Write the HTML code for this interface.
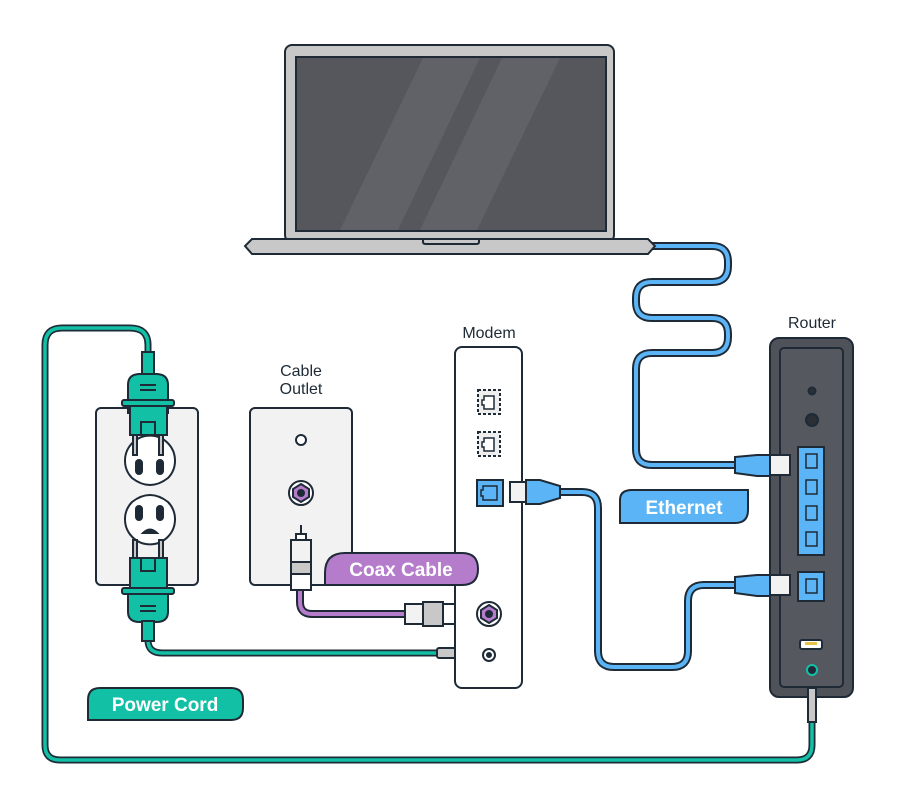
<!DOCTYPE html>
<html><head><style>body{margin:0;background:#fff}svg{display:block}text{font-family:"Liberation Sans",sans-serif}</style></head><body>
<svg width="900" height="811" viewBox="0 0 900 811" xmlns="http://www.w3.org/2000/svg">
<g fill="none" stroke-linecap="round" stroke-linejoin="round">
<path d="M148 360 V345 Q148 328 130 328 H62 Q45 328 45 345 V745 Q45 760 60 760 H797 Q812 760 812 745 V688" stroke="#1e2a36" stroke-width="7"/>
<path d="M148 360 V345 Q148 328 130 328 H62 Q45 328 45 345 V745 Q45 760 60 760 H797 Q812 760 812 745 V688" stroke="#12c0a6" stroke-width="3.5"/>
<path d="M148 620 V640 Q148 653 162 653 H440" stroke="#1e2a36" stroke-width="7"/>
<path d="M148 620 V640 Q148 653 162 653 H440" stroke="#12c0a6" stroke-width="3.5"/>
<path d="M652 246 H712 Q728 246 728 262 V266 Q728 282 712 282 H652 Q636 282 636 298 V302 Q636 318 652 318 H712 Q728 318 728 334 V337 Q728 353 712 353 H652 Q636 353 636 369 V449 Q636 465 652 465 H735" stroke="#1e2a36" stroke-width="8"/>
<path d="M652 246 H712 Q728 246 728 262 V266 Q728 282 712 282 H652 Q636 282 636 298 V302 Q636 318 652 318 H712 Q728 318 728 334 V337 Q728 353 712 353 H652 Q636 353 636 369 V449 Q636 465 652 465 H735" stroke="#5ab4f5" stroke-width="4"/>
<path d="M560 492 H582 Q598 492 598 508 V651 Q598 667 614 667 H672 Q688 667 688 651 V601 Q688 585 704 585 H735" stroke="#1e2a36" stroke-width="8"/>
<path d="M560 492 H582 Q598 492 598 508 V651 Q598 667 614 667 H672 Q688 667 688 651 V601 Q688 585 704 585 H735" stroke="#5ab4f5" stroke-width="4"/>
<path d="M300 590 V602 Q300 614 312 614 H408" stroke="#1e2a36" stroke-width="8"/>
<path d="M300 590 V602 Q300 614 312 614 H408" stroke="#b57ccc" stroke-width="4"/>
</g>
<g stroke="#1e2a36" stroke-width="2">
<rect x="285" y="45" width="329" height="197" rx="7" fill="#c8c8c9"/>
<rect x="296" y="57" width="310" height="174" fill="#55575d"/>
<polygon points="423,58 480,58 398,230 340,230" fill="#606267" stroke="none"/>
<polygon points="502,58 560,58 477,230 420,230" fill="#606267" stroke="none"/>
<rect x="296" y="57" width="310" height="174" fill="none"/>
<path d="M252 239 H648 L655 246 L648 254 H252 L245 246 Z" fill="#c8c8c9"/>
<path d="M423 239 H479 V242 Q479 244 476 244 H426 Q423 244 423 242 Z" fill="#c8c8c9"/>
<rect x="96" y="408" width="102" height="177" rx="5" fill="#f2f2f3"/>
<path d="M132 478 A25 25 0 1 1 168 478 Q150 492 132 478Z" fill="#fff"/>
<rect x="136" y="460" width="6" height="14" rx="3" fill="#1e2a36"/>
<rect x="157" y="460" width="6" height="14" rx="3" fill="#1e2a36"/>
<path d="M132 502 Q150 488 168 502 A25 25 0 1 1 132 502Z" fill="#fff"/>
<rect x="136" y="506" width="6" height="14" rx="3" fill="#1e2a36"/>
<rect x="157" y="506" width="6" height="14" rx="3" fill="#1e2a36"/>
<path d="M143 533 Q150 526 157 533Z" fill="#1e2a36"/>
<rect x="142" y="352" width="12" height="24" fill="#12c0a6"/>
<path d="M128 413 V385 Q128 374 140 374 H156 Q168 374 168 385 V413Z" fill="#12c0a6"/>
<rect x="122" y="400" width="52" height="6" rx="2" fill="#12c0a6"/>
<rect x="130" y="406" width="37" height="29" fill="#12c0a6"/>
<rect x="141" y="422" width="14" height="13" fill="#12c0a6"/>
<line x1="140" y1="385" x2="156" y2="385"/><line x1="140" y1="390" x2="156" y2="390"/>
<rect x="133" y="435" width="4" height="20" fill="#c8c8c9"/><rect x="159" y="435" width="4" height="20" fill="#c8c8c9"/>
<rect x="133" y="540" width="4" height="20" fill="#c8c8c9"/><rect x="159" y="540" width="4" height="20" fill="#c8c8c9"/>
<rect x="130" y="558" width="37" height="30" fill="#12c0a6"/>
<rect x="141" y="558" width="14" height="13" fill="#12c0a6"/>
<rect x="122" y="588" width="52" height="6" rx="2" fill="#12c0a6"/>
<path d="M128 594 V612 Q128 622 140 622 H156 Q168 622 168 612 V594Z" fill="#12c0a6"/>
<line x1="140" y1="606" x2="156" y2="606"/><line x1="140" y1="611" x2="156" y2="611"/>
<rect x="142" y="621" width="12" height="20" fill="#12c0a6"/>
<rect x="250" y="408" width="102" height="177" rx="5" fill="#f2f2f3"/>
<circle cx="301" cy="440" r="5" fill="#fff"/>
<circle cx="301" cy="493" r="12" fill="#fff"/>
<polygon points="301,484 309,489 309,497 301,502 293,497 293,489" fill="#b57ccc"/>
<circle cx="301" cy="493" r="3" fill="#1e2a36"/>
<line x1="301" y1="525" x2="301" y2="535"/>
<rect x="296" y="534" width="10" height="6" fill="#fff"/>
<rect x="291" y="540" width="20" height="22" fill="#f2f2f3"/>
<rect x="291" y="562" width="20" height="12" fill="#c8c8c9"/>
<rect x="291" y="574" width="20" height="16" fill="#fff"/>
<rect x="405" y="604" width="18" height="20" fill="#f2f2f3"/>
<rect x="423" y="602" width="20" height="24" fill="#c8c8c9"/>
<rect x="443" y="604" width="17" height="20" fill="#fff"/>
<line x1="460" y1="614" x2="470" y2="614"/>
<rect x="437" y="648" width="22" height="10" rx="2" fill="#c8c8c9"/>
<rect x="459" y="649" width="10" height="8" fill="#fff"/>
<rect x="455" y="347" width="67" height="341" rx="7" fill="#fff"/>
<rect x="478" y="390" width="22" height="24" fill="#eee" stroke-dasharray="3 2"/>
<path d="M484 396 H494 V409 H484 V405 H482 V400 H484Z" fill="#fff" stroke-width="1.5"/>
<rect x="478" y="432" width="22" height="24" fill="#eee" stroke-dasharray="3 2"/>
<path d="M484 438 H494 V451 H484 V447 H482 V442 H484Z" fill="#fff" stroke-width="1.5"/>
<rect x="477" y="480" width="26" height="26" fill="#5ab4f5"/>
<path d="M483 486 H497 V500 H483 V496 H481 V490 H483Z" fill="#5ab4f5" stroke-width="1.5"/>
<circle cx="489" cy="614" r="12" fill="#fff"/>
<polygon points="489,605 497,610 497,618 489,623 481,618 481,610" fill="#b57ccc"/>
<circle cx="489" cy="614" r="3" fill="#1e2a36"/>
<circle cx="489" cy="655" r="6" fill="#fff"/><circle cx="489" cy="655" r="2" fill="#1e2a36"/>
<rect x="510" y="482" width="16" height="20" fill="#f2f2f3"/>
<path d="M526 480 H540 L560 486 V498 L540 504 H526Z" fill="#5ab4f5"/>
<rect x="770" y="338" width="83" height="359" rx="9" fill="#4f5259"/>
<rect x="780" y="348" width="63" height="339" rx="4" fill="#55585f"/>
<circle cx="812" cy="391" r="3.5" fill="#2b2f36"/>
<circle cx="812" cy="420" r="6" fill="#2b2f36"/>
<rect x="798" y="447" width="26" height="108" fill="#5ab4f5"/>
<rect x="798" y="572" width="26" height="29" fill="#5ab4f5"/>
<g stroke-width="1.5" fill="#5ab4f5">
<rect x="806" y="454" width="11" height="14"/><rect x="806" y="480" width="11" height="14"/>
<rect x="806" y="506" width="11" height="14"/><rect x="806" y="532" width="11" height="14"/>
<rect x="806" y="579" width="11" height="14"/></g>
<rect x="800" y="640" width="22" height="9" rx="2" fill="#fff"/>
<rect x="805" y="642" width="12" height="3" fill="#e8c34a" stroke="none"/>
<circle cx="812" cy="670" r="5" fill="#1e2a36" stroke="#12c0a6"/>
<rect x="808" y="688" width="8" height="34" fill="#c8c8c9"/>
<path d="M735 457 L757 455 H770 V476 H757 L735 473Z" fill="#5ab4f5"/>
<rect x="770" y="455" width="20" height="20" fill="#f2f2f3"/>
<path d="M735 577 L757 575 H770 V596 H757 L735 593Z" fill="#5ab4f5"/>
<rect x="770" y="575" width="20" height="20" fill="#f2f2f3"/>
<path d="M620 500 Q620 490 632 490 H748 V510 Q748 523 735 523 H620Z" fill="#5ab4f5"/>
<path d="M325 573 Q325 553 345 553 H462 Q478 553 478 569 Q478 585 462 585 H325Z" fill="#b57ccc"/>
<path d="M88 700 Q88 688 100 688 H231 Q243 688 243 700 V708 Q243 720 231 720 H88Z" fill="#12c0a6"/>
</g>
<g font-weight="bold" fill="#fff" font-size="19" text-anchor="middle">
<text x="684" y="514">Ethernet</text>
<text x="401" y="576">Coax Cable</text>
<text x="165" y="711">Power Cord</text>
</g>
<g fill="#1e2a36" font-size="16" text-anchor="middle">
<text x="489" y="338">Modem</text>
<text x="812" y="328">Router</text>
<text x="301" y="376">Cable</text>
<text x="301" y="394">Outlet</text>
</g>
</svg>
</body></html>
